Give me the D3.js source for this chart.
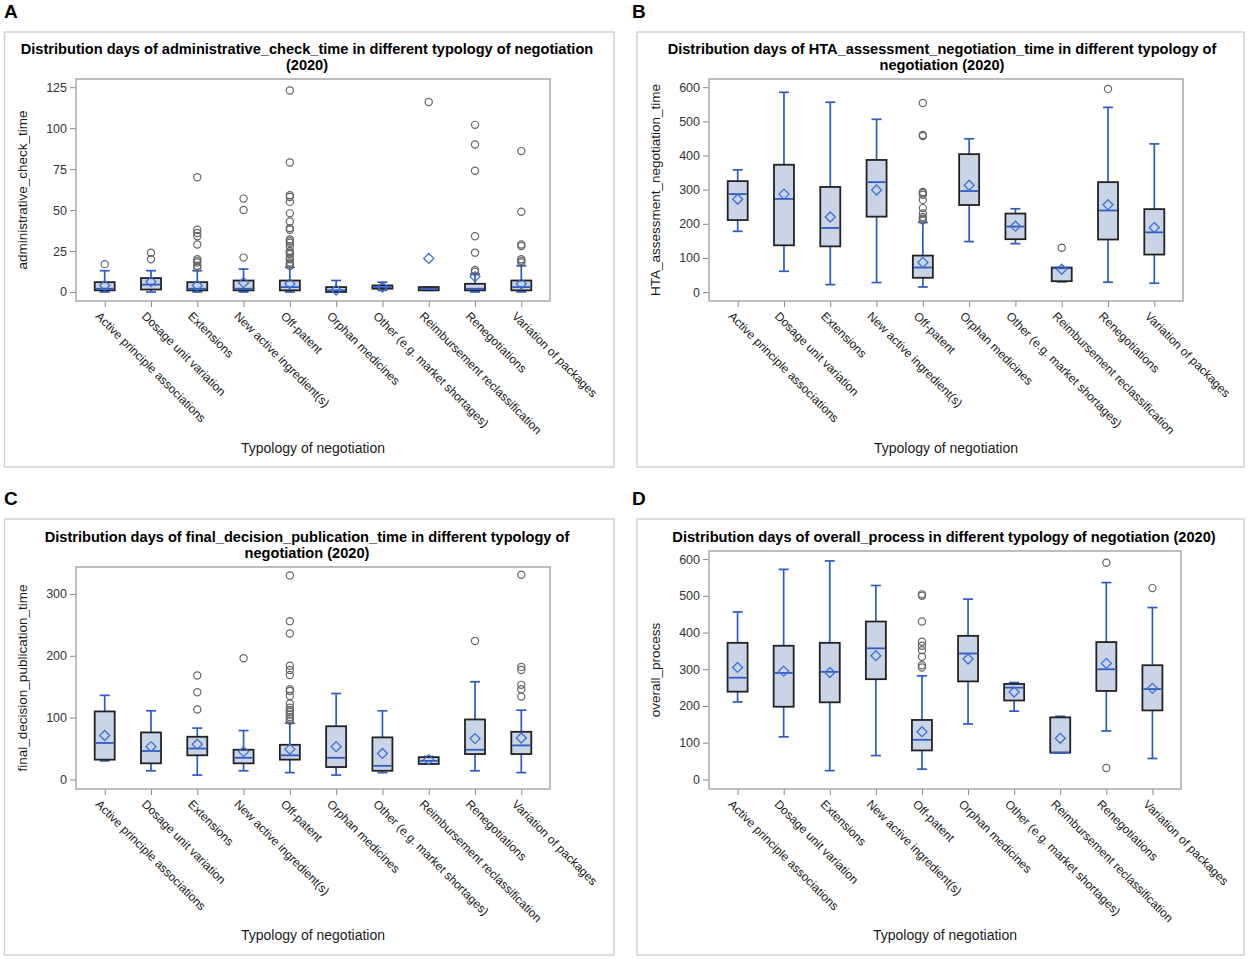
<!DOCTYPE html>
<html>
<head>
<meta charset="utf-8">
<script src="https://cdn.jsdelivr.net/npm/d3@7"></script>
<style>
  html, body { margin: 0; padding: 0; background: #fff; }
  svg text { font-family: "Liberation Sans", Arial, sans-serif; }
</style>
</head>
<body>
<svg id="chart" width="1248" height="959"></svg>
<script>
// ---------- DATA ----------
const categories = [
  "Active principle associations", "Dosage unit variation", "Extensions",
  "New active ingredient(s)", "Off-patent", "Orphan medicines",
  "Other (e.g. market shortages)", "Reimbursement reclassification",
  "Renegotiations", "Variation of packages"
];

// stats rows: [whiskerLow, q1, median, q3, whiskerHigh, mean]
const adminStats = [
  [0, 1, 2, 6, 13, 4], [0, 1.5, 4.5, 8.5, 13, 6.3], [0, 1, 2, 6, 13, 4],
  [0, 1, 2, 7, 14, 5.7], [0, 1, 3, 7, 15, 5], [0, 0, 1, 3, 7, 1.2],
  [1, 2, 3, 4, 6, 3], [1, 1, 2, 3, 3, 20.5], [0, 1, 2, 5, 11, 9.4],
  [0, 1, 3, 7, 16, 5]
];
const adminOutliers = [
  [17], [20, 24], [15, 16, 18, 19, 20, 29, 34, 36, 38, 70], [21, 50, 57],
  [16, 17, 18, 20, 21, 23, 24, 25, 28, 30, 31, 32, 38, 39, 43, 48, 55, 58, 59, 79, 123],
  [], [], [116], [12.4, 13.4, 24, 34, 74, 90, 102], [18, 19, 20, 28, 29, 49, 86]
];

const htaStats = [
  [178, 211, 287, 325, 358, 272], [61, 137, 273, 373, 585, 287], [22, 134, 188, 308, 556, 220],
  [28, 221, 322, 387, 506, 299], [15, 42, 72, 107, 204, 87], [148, 255, 296, 404, 449, 313],
  [142, 155, 192, 230, 244, 193], [30, 32, 70, 72, 72, 67], [29, 154, 239, 322, 541, 256],
  [26, 110, 175, 243, 434, 189]
];
const htaOutliers = [
  [], [], [], [], [210, 215, 220, 230, 246, 270, 285, 290, 293, 457, 460, 554],
  [], [], [130], [595], []
];

const finalStats = [
  [30, 32, 59, 110, 136, 71], [14, 26, 46, 76, 111, 53], [7, 39, 50, 69, 83, 57],
  [14, 26, 35, 48, 79, 45], [11, 32, 39, 56, 91, 49], [7, 20, 35, 86, 139, 53],
  [11, 14, 22, 68, 111, 42], [25, 25, 30, 36, 37, 32], [14, 41, 48, 97, 158, 66],
  [11, 41, 55, 77, 112, 67]
];
const finalOutliers = [
  [], [], [113, 141, 168], [196],
  [95, 98, 101, 105, 109, 112, 116, 123, 135, 143, 146, 169, 177, 184, 236, 256, 330],
  [], [], [], [224], [134, 146, 153, 177, 182, 331]
];

const overallStats = [
  [211, 239, 277, 372, 456, 305], [116, 198, 290, 364, 572, 295], [24, 210, 293, 372, 595, 291],
  [65, 273, 357, 430, 528, 337], [28, 79, 108, 162, 282, 130], [151, 267, 343, 391, 491, 328],
  [186, 215, 250, 260, 264, 238], [73, 73, 73, 169, 172, 112], [132, 241, 300, 374, 536, 316],
  [57, 188, 246, 311, 468, 248]
];
const overallOutliers = [
  [], [], [], [], [305, 311, 334, 352, 364, 375, 430, 500, 504],
  [], [], [], [31, 590], [521]
];

const adminTicks = [0, 25, 50, 75, 100, 125];
const htaTicks = [0, 100, 200, 300, 400, 500, 600];
const finalTicks = [0, 100, 200, 300];
const overallTicks = [0, 100, 200, 300, 400, 500, 600];

// ---------- STYLE ----------
const C = {
  boxFill: "#c9d5e7", boxStroke: "#222", blue: "#2c5cc0",
  diamond: "#3e6fd3", outlier: "#666", frame: "#a9a9a9",
  outer: "#d2d2d2", text: "#1a1a1a"
};

const svg = d3.select("#chart");

function panel(cfg) {
  const g = svg.append("g");
  g.append("rect").attr("x", cfg.outer[0]).attr("y", cfg.outer[1])
    .attr("width", cfg.outer[2] - cfg.outer[0]).attr("height", cfg.outer[3] - cfg.outer[1])
    .attr("fill", "none").attr("stroke", C.outer).attr("stroke-width", 1.5);
  g.append("text").attr("x", cfg.letterPos[0]).attr("y", cfg.letterPos[1])
    .attr("font-size", 19).attr("font-weight", "bold").attr("fill", "#000").text(cfg.letter);
  cfg.title.forEach((t, i) => {
    g.append("text").attr("x", cfg.titleX).attr("y", cfg.titleY + i * 16)
      .attr("text-anchor", "middle").attr("font-size", 14.6).attr("font-weight", "bold")
      .attr("fill", "#000").text(t);
  });

  const [L, T, R, B] = cfg.plot;
  const x = d3.scalePoint().domain(categories).range([L, R]).padding(0.62);
  const y = d3.scaleLinear().domain(cfg.domain).range([B, T]);

  const ya = g.append("g").attr("transform", `translate(${L},0)`)
    .call(d3.axisLeft(y).tickValues(cfg.ticks).tickSize(6).tickPadding(3));
  ya.select(".domain").remove();
  ya.selectAll("line").attr("stroke", "#888");
  ya.selectAll("text").attr("font-size", 12.5).attr("fill", "#333")
    .attr("font-family", "'Liberation Sans', Arial, sans-serif");

  const xa = g.append("g").attr("transform", `translate(0,${B})`)
    .call(d3.axisBottom(x).tickSize(6).tickFormat(""));
  xa.select(".domain").remove();
  xa.selectAll("line").attr("stroke", "#888");

  g.append("rect").attr("x", L).attr("y", T).attr("width", R - L).attr("height", B - T)
    .attr("fill", "none").attr("stroke", C.frame).attr("stroke-width", 1.5);

  g.selectAll(".xl").data(categories).join("text")
    .attr("transform", d => `translate(${x(d) - 7},${B + 13}) rotate(45)`)
    .attr("dy", "0.35em")
    .attr("font-size", 12).attr("fill", C.text).text(d => d);

  g.append("text").attr("x", (L + R) / 2).attr("y", cfg.xTitleY)
    .attr("text-anchor", "middle").attr("font-size", 14).attr("fill", C.text)
    .text("Typology of negotiation");
  g.append("text").attr("transform", `translate(${cfg.yTitleX},${(T + B) / 2}) rotate(-90)`)
    .attr("text-anchor", "middle").attr("font-size", 13.5).attr("fill", C.text)
    .text(cfg.yTitle);

  const bw = 20, cap = 10;
  const boxes = g.selectAll(".bx").data(categories.map((c, i) => ({ c, s: cfg.stats[i], o: cfg.outliers[i] })))
    .join("g");

  boxes.append("line").attr("x1", d => x(d.c)).attr("x2", d => x(d.c))
    .attr("y1", d => y(d.s[3])).attr("y2", d => y(d.s[4]))
    .attr("stroke", C.blue).attr("stroke-width", 1.7);
  boxes.append("line").attr("x1", d => x(d.c)).attr("x2", d => x(d.c))
    .attr("y1", d => y(d.s[1])).attr("y2", d => y(d.s[0]))
    .attr("stroke", C.blue).attr("stroke-width", 1.7);
  boxes.append("line").attr("x1", d => x(d.c) - cap / 2).attr("x2", d => x(d.c) + cap / 2)
    .attr("y1", d => y(d.s[4])).attr("y2", d => y(d.s[4]))
    .attr("stroke", C.blue).attr("stroke-width", 1.7);
  boxes.append("line").attr("x1", d => x(d.c) - cap / 2).attr("x2", d => x(d.c) + cap / 2)
    .attr("y1", d => y(d.s[0])).attr("y2", d => y(d.s[0]))
    .attr("stroke", C.blue).attr("stroke-width", 1.7);

  boxes.append("rect").attr("x", d => x(d.c) - bw / 2).attr("width", bw)
    .attr("y", d => y(d.s[3])).attr("height", d => Math.max(1, y(d.s[1]) - y(d.s[3])))
    .attr("fill", C.boxFill).attr("stroke", C.boxStroke).attr("stroke-width", 1.8);
  boxes.append("line").attr("x1", d => x(d.c) - bw / 2 + 1).attr("x2", d => x(d.c) + bw / 2 - 1)
    .attr("y1", d => y(d.s[2])).attr("y2", d => y(d.s[2]))
    .attr("stroke", C.blue).attr("stroke-width", 1.8);
  boxes.append("path")
    .attr("d", d => { const cx = x(d.c), cy = y(d.s[5]), r = 5;
      return `M${cx},${cy - r}L${cx + r},${cy}L${cx},${cy + r}L${cx - r},${cy}Z`; })
    .attr("fill", "none").attr("stroke", C.diamond).attr("stroke-width", 1.3);
  boxes.each(function (d) {
    d3.select(this).selectAll("circle").data(d.o).join("circle")
      .attr("cx", x(d.c)).attr("cy", v => y(v)).attr("r", 3.6)
      .attr("fill", "none").attr("stroke", C.outlier).attr("stroke-width", 1.2);
  });
}

panel({
  letter: "A", letterPos: [4, 18], outer: [4.5, 32, 614, 467],
  title: ["Distribution days of administrative_check_time in different typology of negotiation", "(2020)"],
  titleX: 307, titleY: 54,
  plot: [76, 79, 550, 301], domain: [-5.5, 130], ticks: adminTicks,
  stats: adminStats, outliers: adminOutliers,
  yTitle: "administrative_check_time", yTitleX: 27, xTitleY: 453
});
panel({
  letter: "B", letterPos: [632, 18], outer: [637, 32, 1244, 467],
  title: ["Distribution days of HTA_assessment_negotiation_time in different typology of", "negotiation (2020)"],
  titleX: 942, titleY: 54,
  plot: [709, 79, 1183, 301], domain: [-26, 624], ticks: htaTicks,
  stats: htaStats, outliers: htaOutliers,
  yTitle: "HTA_assessment_negotiation_time", yTitleX: 660, xTitleY: 453
});
panel({
  letter: "C", letterPos: [4, 505], outer: [4.5, 519, 614, 955],
  title: ["Distribution days of final_decision_publication_time in different typology of", "negotiation (2020)"],
  titleX: 307, titleY: 542,
  plot: [76, 567, 550, 789], domain: [-15.5, 343.6], ticks: finalTicks,
  stats: finalStats, outliers: finalOutliers,
  yTitle: "final_decision_publication_time", yTitleX: 27, xTitleY: 940
});
panel({
  letter: "D", letterPos: [632, 505], outer: [637, 519, 1244, 955],
  title: ["Distribution days of overall_process in different typology of negotiation (2020)"],
  titleX: 944, titleY: 542,
  plot: [709, 551, 1181, 789], domain: [-26, 622], ticks: overallTicks,
  stats: overallStats, outliers: overallOutliers,
  yTitle: "overall_process", yTitleX: 660, xTitleY: 940
});
</script>
</body>
</html>
